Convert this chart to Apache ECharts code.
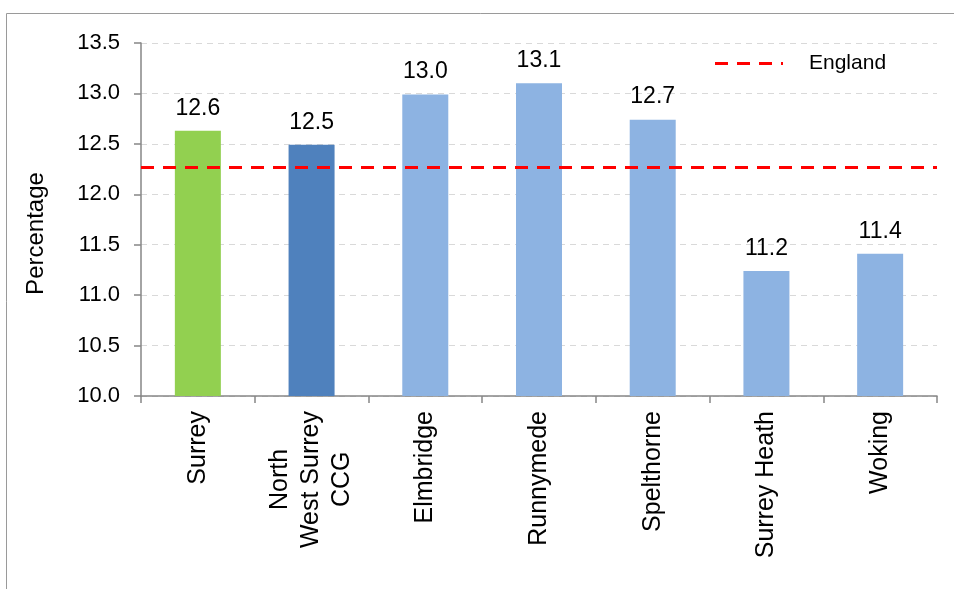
<!DOCTYPE html>
<html>
<head>
<meta charset="utf-8">
<script src="https://cdn.jsdelivr.net/npm/echarts@6/dist/echarts.min.js"></script>
<style>html,body{margin:0;padding:0;background:#fff}#c{width:954px;height:589px}</style>
</head>
<body>
<div id="c"></div>
<script>
const categories = ['Surrey', 'North\nWest Surrey\nCCG', 'Elmbridge', 'Runnymede', 'Spelthorne', 'Surrey Heath', 'Woking'];
const values = [12.63, 12.49, 12.99, 13.10, 12.74, 11.24, 11.41];
const barColors = ['#92D050', '#4F81BD', '#8DB3E2', '#8DB3E2', '#8DB3E2', '#8DB3E2', '#8DB3E2'];
const englandValue = 12.27;
const yMin = 10.0, yMax = 13.5, yStep = 0.5;

const FONT = "'Liberation Sans', Arial, sans-serif";
const CAT_FONT = 25;
const measureCtx = document.createElement('canvas').getContext('2d');
measureCtx.font = CAT_FONT + 'px ' + FONT;

// centre each line of multi-line category labels via rich-text padding
const catRich = {};
const catText = {};
categories.forEach((c, ci) => {
  if (!c.includes('\n')) { catText[c] = c; return; }
  const lines = c.split('\n');
  const widths = lines.map(s => measureCtx.measureText(s).width);
  const maxW = Math.max(...widths);
  catText[c] = lines.map((s, li) => {
    const key = 'c' + ci + 'l' + li;
    catRich[key] = {align: 'left', fontSize: CAT_FONT, fontFamily: FONT, color: '#000', lineHeight: 31,
      padding: [0, 0, 0, Math.round((maxW - widths[li]) / 2)]};
    return '{' + key + '|' + s + '}';
  }).join('\n');
});

const chart = echarts.init(document.getElementById('c'), null, {renderer: 'canvas'});
chart.setOption({
  animation: false,
  backgroundColor: '#fff',
  textStyle: {fontFamily: FONT},
  graphic: [{
    type: 'rect', shape: {x: 6.5, y: 13.5, width: 1000, height: 1000},
    style: {fill: 'none', stroke: '#9a9a9a', lineWidth: 1}, silent: true, z: -1
  }],
  grid: {left: 141, right: 17, top: 43, bottom: 193},
  legend: {
    data: [{name: 'England', icon: 'path://M0,0h13v3h-13z M22,0h13v3h-13z M44,0h13v3h-13z M66,0h2v3h-2z'}],
    left: 715, top: 53, padding: 0, itemWidth: 68, itemHeight: 3,
    itemStyle: {color: '#FF0000'},
    textStyle: {fontSize: 21, color: '#000', fontFamily: FONT, padding: [0, 0, 0, 21]},
    selectedMode: false
  },
  xAxis: {
    type: 'category', data: categories,
    axisLine: {lineStyle: {color: '#868686', width: 1.5}},
    axisTick: {show: true, length: 7, lineStyle: {color: '#868686', width: 1.5}},
    axisLabel: {
      rotate: 90, margin: 15, fontSize: CAT_FONT, color: '#000', fontFamily: FONT, interval: 0,
      formatter: v => catText[v] || v,
      rich: catRich
    }
  },
  yAxis: {
    type: 'value', min: yMin, max: yMax, interval: yStep,
    name: 'Percentage', nameLocation: 'middle', nameGap: 93, nameRotate: 90,
    nameTextStyle: {fontSize: 24, color: '#000', fontFamily: FONT, padding: [0, 28, 0, 0]},
    axisLine: {show: true, lineStyle: {color: '#868686', width: 1.5}},
    axisTick: {show: true, length: 7, lineStyle: {color: '#868686', width: 1.5}},
    axisLabel: {fontSize: 22, color: '#000', fontFamily: FONT, margin: 21, formatter: v => v.toFixed(1)},
    splitLine: {lineStyle: {color: '#D9D9D9', type: [6, 5], width: 1}}
  },
  series: [{
    type: 'bar', name: 'Value', barWidth: 46,
    data: values.map((v, i) => ({value: v, itemStyle: {color: barColors[i]}})),
    label: {show: true, position: 'top', distance: 11, fontSize: 23, color: '#000', fontFamily: FONT,
      formatter: p => p.value.toFixed(1)},
    z: 2
  }, {
    type: 'line', name: 'England', data: [], symbol: 'none',
    itemStyle: {color: '#FF0000'},
    lineStyle: {color: '#FF0000', width: 3, type: [13, 9]},
    markLine: {
      silent: true, symbol: 'none', label: {show: false},
      lineStyle: {color: '#FF0000', width: 3, type: [13, 9]},
      data: [{yAxis: englandValue}]
    },
    z: 3
  }]
});
</script>
</body>
</html>
